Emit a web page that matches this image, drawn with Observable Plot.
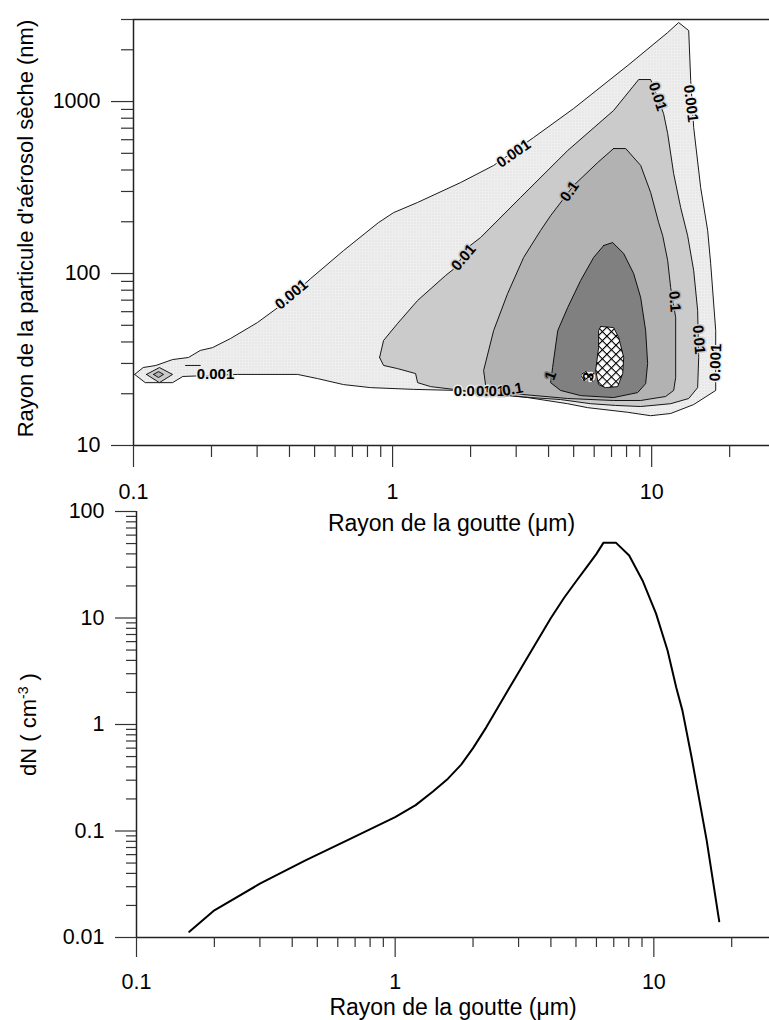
<!DOCTYPE html>
<html><head><meta charset="utf-8">
<script src="https://cdn.jsdelivr.net/npm/d3@7"></script>
<script src="https://cdn.jsdelivr.net/npm/@observablehq/plot@0.6"></script>
<style>
body{margin:0;background:#fff;}
#wrap{position:relative;width:769px;height:1020px;overflow:hidden;}
#wrap svg{position:absolute;left:0;}
</style></head><body><div id="wrap"></div>
<script>
// ---------- axis ticks ----------
const xMajorTicks = [0.1, 1, 10];
const xMajorLabels = ["0.1", "1", "10"];
const xMinorTicks = [0.2,0.3,0.4,0.5,0.6,0.7,0.8,0.9,2,3,4,5,6,7,8,9,20];
const xDomainTop = [0.1, 28.5];
const xDomainBottom = [0.1, 28];

const yTopDomain = [10, 3000];
const yTopMajor = [10, 100, 1000];
const yTopLabels = ["10", "100", "1000"];
const yTopMinor = [20,30,40,50,60,70,80,90,200,300,400,500,600,700,800,900,2000,3000];

const yBotDomain = [0.01, 100];
const yBotMajor = [0.01, 0.1, 1, 10, 100];
const yBotLabels = ["0.01", "0.1", "1", "10", "100"];
const yBotMinor = [0.02,0.03,0.04,0.05,0.06,0.07,0.08,0.09,0.2,0.3,0.4,0.5,0.6,0.7,0.8,0.9,2,3,4,5,6,7,8,9,20,30,40,50,60,70,80,90];

const xTitle = "Rayon de la goutte (μm)";
const yTopTitle = "Rayon de la particule d'aérosol sèche (nm)";
const yBotTitle = "dN ( cm-3 )";

// ---------- contour polygons: [drop radius µm, dry aerosol radius nm] ----------
const contourLevels = ["0.001", "0.01", "0.1", "1", "3"];
const contour0001 = [[0.101,25.9],[0.109,28.4],[0.122,29.2],[0.1415,31.6],[0.163,32.5],[0.181,35.7],[0.202,37.1],[0.237,41.9],[0.301,51.9],[0.37,65.2],[0.483,93.5],[0.647,136],[0.883,198],[1.009,226],[1.249,259],[1.83,338],[2.455,425],[3.503,618],[5.0,911],[8.08,1619],[11.53,2519],[12.71,2880],[13.9,2587],[14.15,1325],[14.53,706],[15.46,316],[16.45,178],[16.9,114],[17.67,46.6],[17.67,20.9],[14.53,17.3],[11.84,15.35],[9.91,14.9],[8.08,15.6],[5.66,16.6],[4.74,17.5],[3.32,19.0],[1.782,20.9],[1.205,21.2],[0.823,21.7],[0.647,22.6],[0.513,24.5],[0.43,25.9],[0.252,25.9],[0.155,25.2],[0.1415,23.2],[0.111,23.2]];
const contour001 = [[0.891,32.5],[0.923,40.8],[1.045,51.2],[1.249,69.7],[1.602,97.4],[1.751,108.4],[1.948,141.6],[2.187,162],[3.12,277],[4.74,519],[7.13,887],[8.91,1343],[9.91,1343],[11.12,851],[11.53,652],[12.16,381],[12.94,242],[13.77,166],[14.53,104],[15.05,61],[15.19,32.5],[15.05,21.7],[13.9,18.76],[11.84,17.5],[9.07,16.85],[7.26,17.1],[5.81,17.5],[4.45,18.5],[3.41,19.0],[2.187,20.3],[1.72,21.2],[1.402,22.0],[1.249,23.2],[1.227,26.2],[1.045,28.0],[0.923,29.2]];
const contour01 = [[7.13,533],[7.94,533],[9.07,425],[9.91,296],[10.64,198],[11.03,166],[11.53,119],[11.84,82.9],[12.38,55.5],[12.38,24.85],[12.16,20.9],[11.32,19.27],[9.07,18.27],[7.13,18.27],[4.74,18.76],[3.18,19.8],[2.683,20.3],[2.287,22.3],[2.246,27.3],[2.455,46.6],[2.78,76.5],[3.205,124],[3.727,178],[4.074,217],[5.0,325],[6.19,442]];
const contour1 = [[6.53,145.5],[7.07,151.4],[7.8,130.7],[8.52,100],[9.07,72.5],[9.48,46.6],[9.65,30],[9.48,22.9],[8.83,20.3],[7.13,19.0],[5.32,19.5],[4.45,20.9],[4.074,23.2],[4.146,28.4],[4.34,46.6],[4.74,63.4],[5.32,91.1],[5.97,124]];
const contour3 = [[6.36,49.2],[7.13,48.5],[7.46,42.5],[7.8,32.5],[7.73,26.2],[7.39,22.0],[6.64,21.7],[6.24,22.6],[6.08,27.3],[6.24,37.1],[6.24,46.6]];
// small closed contours near 0.12 µm
const islandOuter001 = [[0.1122,25.9],[0.1259,28.4],[0.1415,25.9],[0.1259,23.2]];
const islandInner01 = [[0.1195,25.9],[0.1249,26.9],[0.1306,25.9],[0.1249,24.85]];
const fragment0001 = [[0.1588,29.2],[0.181,29.2]];

// contour labels
const labelText  = ["0.001","0.001","0.001","0.01","0.1","0.01","0.001","0.1","0.01","0.001","1","3","0.001","0.01","0.1"];
const labelLevel = ["0.001","0.001","0.001","0.01","0.1","0.01","0.001","0.1","0.01","0.001","1","3","0.001","0.01","0.1"];
const labelX     = [0.2073,0.407,2.933,1.88,4.825,10.55,14.15,12.27,15.19,17.67,4.074,5.71,2.037,2.39,2.907];
const labelY     = [25.9,75.5,498.7,124,300,1069,974,68.8,41.3,30.4,25.5,25.2,20.6,20.6,21.2];
const labelAngle = [0,-40,-35,-50,-55,72,83,85,85,-88,-70,-80,0,0,-10];

// ---------- droplet spectrum ----------
const dropRadius = [0.16,0.2,0.3,0.45,0.64,1.0,1.2,1.4,1.6,1.8,2.0,2.25,2.73,3.56,4.0,4.5,5.0,5.5,6.0,6.39,7.13,8.03,9.04,10.2,11.3,12.2,12.9,14.0,16.0,17.9];
const dNvalues   = [0.0113,0.018,0.032,0.053,0.08,0.135,0.175,0.235,0.31,0.42,0.6,0.94,2.1,6.2,10,15.5,22,30,40,51,51,38.6,22.5,11,4.95,2.24,1.35,0.49,0.082,0.0142];

// ---------- rendering ----------
const FONT = "'Liberation Sans', Arial, Helvetica, sans-serif";
const W = 769;
const fillFor = {"0.001": "url(#dots)", "0.01": "#cbcbcb", "0.1": "#b2b2b2", "1": "#808080", "3": "url(#hatch)"};
const closed = pts => [...pts, pts[0]].map(([x, y]) => ({x, y}));
const polygons = [contour0001, contour001, contour01, contour1, contour3];

const labels = labelText.map((t, i) => ({t, level: labelLevel[i], x: labelX[i], y: labelY[i], a: labelAngle[i]}));

function axisMarks(major, majorLabels, minor, majTick, minTick, yMajor, yLabels, yMinor, yMajTick, yMinTick) {
  const common = {stroke: "#333", strokeWidth: 1.2};
  return [
    Plot.axisX(major, {...common, tickSize: majTick, tickPadding: 16, tickFormat: d => majorLabels[major.indexOf(d)], label: null, fill: "#000"}),
    Plot.axisX(minor, {...common, tickSize: minTick, fill: "none", label: null}),
    Plot.axisY(yMajor, {...common, tickSize: yMajTick, tickPadding: 11, tickFormat: d => yLabels[yMajor.indexOf(d)], label: null, fill: "#000"}),
    Plot.axisY(yMinor, {...common, tickSize: yMinTick, fill: "none", label: null})
  ];
}

const topPlot = Plot.plot({
  width: W, height: 540,
  marginLeft: 133, marginRight: 0, marginTop: 19, marginBottom: 95,
  style: {background: "transparent", fontFamily: FONT, fontSize: "21.5px", color: "#000"},
  x: {type: "log", domain: xDomainTop},
  y: {type: "log", domain: yTopDomain},
  marks: [
    ...polygons.map((p, i) => Plot.line(closed(p), {x: "x", y: "y", fill: fillFor[contourLevels[i]], stroke: "#000", strokeWidth: 0.9, curve: "linear"})),
    Plot.line(closed(islandOuter001), {x: "x", y: "y", fill: fillFor["0.01"], stroke: "#000", strokeWidth: 0.9}),
    Plot.line(closed(islandInner01), {x: "x", y: "y", fill: fillFor["0.1"], stroke: "#000", strokeWidth: 0.9}),
    Plot.line(fragment0001.map(([x, y]) => ({x, y})), {x: "x", y: "y", stroke: "#000", strokeWidth: 0.9}),
    ...contourLevels.map(lv => Plot.text(labels.filter(d => d.level === lv), {
      x: "x", y: "y", text: "t", rotate: "a", fontSize: 15, fontWeight: "bold", fill: "#000",
      stroke: fillFor[lv], strokeWidth: 3, paintOrder: "stroke", fontFamily: FONT
    })),
    Plot.ruleY([yTopDomain[0]], {stroke: "#222", strokeWidth: 1.5}),
    Plot.ruleY([yTopDomain[1]], {stroke: "#222", strokeWidth: 1.5}),
    Plot.ruleX([xDomainTop[0]], {stroke: "#222", strokeWidth: 1.5}),
    ...axisMarks(xMajorTicks, xMajorLabels, xMinorTicks, 22, 12, yTopMajor, yTopLabels, yTopMinor, 22, 12),
    Plot.text([xTitle], {frameAnchor: "bottom", dy: 78, textAnchor: "middle", lineAnchor: "middle", fontSize: 23, fill: "#000"}),
    Plot.text([yTopTitle], {frameAnchor: "left", dx: -108, dy: -4, rotate: -90, textAnchor: "middle", lineAnchor: "middle", fontSize: 22, fill: "#000"})
  ]
});
topPlot.style.top = "0px";
topPlot.insertAdjacentHTML("afterbegin",
  `<defs>
    <pattern id="dots" width="3" height="3" patternUnits="userSpaceOnUse">
      <rect width="3" height="3" fill="#f1f1f1"/>
      <rect width="1" height="1" fill="#d2d2d2"/>
      <rect x="1.5" y="1.5" width="1" height="1" fill="#dedede"/>
    </pattern>
    <pattern id="hatch" width="6.4" height="6.4" patternUnits="userSpaceOnUse" patternTransform="rotate(45)">
      <rect width="6.4" height="6.4" fill="#fff"/>
      <line x1="0" y1="0" x2="6.4" y2="0" stroke="#000" stroke-width="2.2"/>
      <line x1="0" y1="0" x2="0" y2="6.4" stroke="#000" stroke-width="2.2"/>
    </pattern>
  </defs>`);

const spectrum = dropRadius.map((x, i) => ({x, y: dNvalues[i]}));
const botPlot = Plot.plot({
  width: W, height: 530,
  marginLeft: 136, marginRight: 0, marginTop: 21, marginBottom: 83,
  style: {background: "transparent", fontFamily: FONT, fontSize: "21.5px", color: "#000"},
  x: {type: "log", domain: xDomainBottom},
  y: {type: "log", domain: yBotDomain},
  marks: [
    Plot.ruleY([yBotDomain[0]], {stroke: "#222", strokeWidth: 1.5}),
    Plot.ruleX([xDomainBottom[0]], {stroke: "#222", strokeWidth: 1.5}),
    ...axisMarks(xMajorTicks, xMajorLabels, xMinorTicks, 20, 10, yBotMajor, yBotLabels, yBotMinor, 21, 10),
    Plot.line(spectrum, {x: "x", y: "y", stroke: "#000", strokeWidth: 2, curve: "linear"}),
    Plot.text([xTitle], {frameAnchor: "bottom", dy: 70, textAnchor: "middle", lineAnchor: "middle", fontSize: 23, fill: "#000"}),
    Plot.text([yBotTitle], {frameAnchor: "left", dx: -108, rotate: -90, textAnchor: "middle", lineAnchor: "middle", fontSize: 22, fill: "#000"})
  ]
});
botPlot.style.top = "490px";

const wrap = document.getElementById("wrap");
wrap.appendChild(botPlot);
wrap.appendChild(topPlot);

// superscript in the dN unit
botPlot.querySelectorAll("text").forEach(t => {
  if (t.textContent === yBotTitle) {
    const ns = "http://www.w3.org/2000/svg";
    const target = t.querySelector("tspan") || t;
    target.textContent = "";
    target.appendChild(document.createTextNode("dN ( cm"));
    const sup = document.createElementNS(ns, "tspan");
    sup.setAttribute("baseline-shift", "super");
    sup.setAttribute("font-size", "14");
    sup.textContent = "-3";
    target.appendChild(sup);
    target.appendChild(document.createTextNode(" )"));
  }
});
</script></body></html>
